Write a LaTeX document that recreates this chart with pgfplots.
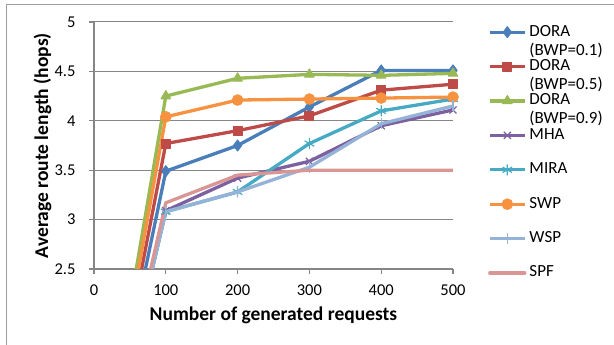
\documentclass[border=0pt]{standalone}
\usepackage{fontspec}
\setmainfont{Carlito}
\usepackage{pgfplots}
\pgfplotsset{compat=1.18}
\definecolor{cA}{HTML}{4A7EBB}
\definecolor{cB}{HTML}{BE4B48}
\definecolor{cC}{HTML}{98B954}
\definecolor{cD}{HTML}{7D60A0}
\definecolor{cE}{HTML}{46AAC5}
\definecolor{cF}{HTML}{F69240}
\definecolor{cG}{HTML}{95B3D7}
\definecolor{cH}{HTML}{D99694}
\definecolor{axgray}{HTML}{868686}
\begin{document}
\begin{tikzpicture}
\path[use as bounding box] (0,0) rectangle (614pt,345pt);
\draw[color=axgray!80, line width=1pt] (6.5pt,0) -- (6.5pt,340.5pt) -- (614pt,340.5pt);
\begin{axis}[
  at={(94pt,76pt)}, anchor=south west,
  scale only axis, width=359pt, height=247pt,
  xmin=0, xmax=500, ymin=2.5, ymax=5,
  xtick={0,100,...,500}, ytick={2.5,3,...,5},
  axis lines=left,
  axis line style={-, draw=axgray, line width=1.5pt},
  ymajorgrids, grid style={axgray, line width=1pt},
  tick align=outside, major tick length=5pt,
  tick style={axgray, line width=1.2pt},
  /pgf/number format/assume math mode=true,
  tick label style={font=\fontsize{16.5}{19}\selectfont, black},
  xticklabel style={anchor=center, yshift=-16pt},
  yticklabel style={anchor=east, xshift=-10pt},
  label style={font=\bfseries\fontsize{19.5}{23}\selectfont},
  xlabel={Number of generated requests},
  ylabel={Average route length (hops)},
  xlabel style={at={(axis description cs:0.5,-0.1862)}, anchor=center},
  ylabel style={at={(axis description cs:-0.1435,0.5)}, anchor=center},
  clip mode=individual,
  every axis plot/.append style={line width=3.3pt, line join=round},
  legend style={at={(1,1)}, anchor=north west, xshift=35pt, yshift=-2pt,
    draw=none, fill=none, inner sep=0pt, row sep=18.4pt,
    font=\fontsize{17}{19}\selectfont,
    nodes={inner sep=0pt, text height=12pt, text depth=4pt},
    /tikz/every odd column/.style={column sep=3pt}},
  legend cell align=left,
  legend image code/.code={\draw[mark repeat=2, mark phase=2] plot coordinates {(0pt,0pt) (17.5pt,0pt) (35pt,0pt)};},
]
% rising segments from the origin (clipped at 2.5)
\addplot[cA, no marks, forget plot] coordinates {(0,0)(100,3.49)};
\addplot[cB, no marks, forget plot] coordinates {(0,0)(100,3.77)};
\addplot[cC, no marks, forget plot] coordinates {(0,0)(100,4.25)};
\addplot[cD, no marks, forget plot] coordinates {(0,0)(100,3.09)};
\addplot[cE, no marks, forget plot] coordinates {(0,0)(100,3.08)};
\addplot[cF, no marks, forget plot] coordinates {(0,0)(100,4.04)};
\addplot[cG, no marks, forget plot] coordinates {(0,0)(100,3.08)};
\addplot[cH, no marks, forget plot, line cap=round] coordinates {(0,0)(100,3.17)};
% series
\addplot[cA, mark=diamond*, mark size=5.5pt, mark options={solid, line width=1pt}] coordinates {(100,3.49)(200,3.75)(300,4.14)(400,4.51)(500,4.51)};
\addlegendentry{\rlap{\raisebox{-19pt}[0pt][0pt]{(BWP=0.1)}}DORA}
\addplot[cB, mark=square*, mark size=4.5pt, mark options={solid, line width=1pt}] coordinates {(100,3.77)(200,3.90)(300,4.05)(400,4.31)(500,4.37)};
\addlegendentry{\rlap{\raisebox{-19pt}[0pt][0pt]{(BWP=0.5)}}DORA}
\addplot[cC, mark=triangle*, mark size=5.5pt, mark options={solid, line width=1pt}] coordinates {(100,4.25)(200,4.43)(300,4.47)(400,4.46)(500,4.48)};
\addlegendentry{\rlap{\raisebox{-19pt}[0pt][0pt]{(BWP=0.9)}}DORA}
\addplot[cD, mark=x, mark size=5pt, mark options={solid, line width=1.2pt}] coordinates {(100,3.09)(200,3.42)(300,3.59)(400,3.95)(500,4.11)};
\addlegendentry{MHA}
\addplot[cE, mark=asterisk, mark size=5.5pt, mark options={solid, line width=1.2pt}] coordinates {(100,3.08)(200,3.28)(300,3.77)(400,4.10)(500,4.22)};
\addlegendentry{MIRA}
\addplot[cF, mark=*, mark size=5.3pt, mark options={solid, line width=1pt}] coordinates {(100,4.04)(200,4.21)(300,4.22)(400,4.23)(500,4.24)};
\addlegendentry{SWP}
\addplot[cG, mark=|, mark size=5.5pt, mark options={solid, line width=1.2pt}] coordinates {(100,3.08)(200,3.28)(300,3.53)(400,3.97)(500,4.15)};
\addlegendentry{WSP}
\addplot[cH, no marks, line cap=round] coordinates {(100,3.17)(200,3.45)(300,3.50)(400,3.50)(500,3.50)};
\addlegendentry{SPF}
\end{axis}
\end{tikzpicture}
\end{document}
